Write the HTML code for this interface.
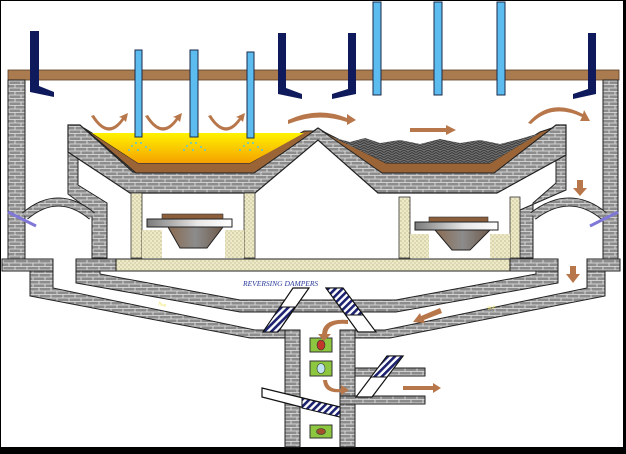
<!DOCTYPE html>
<html><head><meta charset="utf-8"><style>
html,body{margin:0;padding:0;background:#000;}
svg{display:block;}
</style></head><body>
<svg width="626" height="454" viewBox="0 0 626 454" xmlns="http://www.w3.org/2000/svg">
<defs>
<pattern id="br" width="12" height="7" patternUnits="userSpaceOnUse">
<rect width="12" height="7" fill="#8c8c8c"/>
<path d="M0 0.5H12M0 4H12M3 0.5V4M9 4V7.5" stroke="#e6e6e6" stroke-width="0.8" fill="none"/>
</pattern>
<pattern id="dt" width="4" height="4" patternUnits="userSpaceOnUse">
<rect width="4" height="4" fill="#eeeac8"/>
<circle cx="1" cy="1" r="0.6" fill="#a39c6c"/><circle cx="3" cy="3" r="0.6" fill="#b7b086"/>
</pattern>
<pattern id="rb" width="8" height="5" patternUnits="userSpaceOnUse">
<rect width="8" height="5" fill="#6e6e6e"/>
<path d="M0 2.5L4 0L8 2.5M0 5L4 2.5L8 5" stroke="#333" stroke-width="0.8" fill="none"/>
</pattern>
<pattern id="ht" width="5" height="5" patternUnits="userSpaceOnUse" patternTransform="rotate(45)">
<rect width="5" height="5" fill="#fff"/><rect width="2.6" height="5" fill="#1c2270"/>
</pattern>
<linearGradient id="yel" x1="0" y1="0" x2="0" y2="1">
<stop offset="0" stop-color="#fff200"/><stop offset="1" stop-color="#f5a100"/>
</linearGradient>
<linearGradient id="tray" x1="0" y1="0" x2="1" y2="0">
<stop offset="0" stop-color="#7a7a7a"/><stop offset="0.6" stop-color="#e8e8e8"/><stop offset="1" stop-color="#ffffff"/>
</linearGradient>
<linearGradient id="bowl" x1="0" y1="0" x2="1" y2="0">
<stop offset="0" stop-color="#8a6a50"/><stop offset="0.5" stop-color="#8c8c8c"/><stop offset="1" stop-color="#6f5a4a"/>
</linearGradient>
</defs>
<rect x="0" y="0" width="626" height="454" fill="#000"/>
<rect x="1" y="1" width="622" height="446" fill="#fff"/>

<rect x="8" y="70" width="611" height="10" fill="#a97b4f" stroke="#5a3d22" stroke-width="0.8"/>

<rect x="8" y="80" width="17" height="179" fill="url(#br)" stroke="#222" stroke-width="1"/>
<rect x="603" y="80" width="15" height="179" fill="url(#br)" stroke="#222" stroke-width="1"/>

<polygon points="68,150 78,156 78,185 107,203 107,258 92,258 92,212 68,194" fill="url(#br)" stroke="#222" stroke-width="1"/>
<polygon points="566,150 556,156 556,183 533,203 533,258 520,258 520,210 566,190" fill="url(#br)" stroke="#222" stroke-width="1"/>

<path d="M25,216 Q58,188 92,216" stroke="#222" stroke-width="9" fill="none"/>
<path d="M25,216 Q58,188 92,216" stroke="url(#br)" stroke-width="7" fill="none"/>
<path d="M533,216 Q570,188 604,216" stroke="#222" stroke-width="9" fill="none"/>
<path d="M533,216 Q570,188 604,216" stroke="url(#br)" stroke-width="7" fill="none"/>
<line x1="8" y1="212" x2="36" y2="226" stroke="#8078d8" stroke-width="3"/>
<line x1="590" y1="226" x2="618" y2="212" stroke="#8078d8" stroke-width="3"/>

<polygon points="68,125 80,125 133,172 255,172 318,128 385,172 495,172 556,125 566,125 566,155 497,193 378,193 318,140 255,193 130,193 68,152" fill="url(#br)" stroke="#222" stroke-width="1.2"/>
<polygon points="84,128 136,173 254,173 314,131 304,131 250,163 138,163 92,133" fill="#9a6436" stroke="#222" stroke-width="1"/>
<polygon points="92,133 304,133 250,163 138,163" fill="url(#yel)"/>
<polygon points="322,131 382,173 494,173 552,128 540,132 490,163 386,163 332,136" fill="#9a6436" stroke="#222" stroke-width="1"/>
<path d="M332,137 L350,142 L365,138 L380,143 L400,140 L420,144 L440,139 L460,143 L480,140 L500,144 L520,139 L540,133 L490,163 L386,163 Z" fill="url(#rb)"/>

<rect x="131" y="193" width="11" height="65" fill="url(#dt)" stroke="#333" stroke-width="0.8"/>
<rect x="244" y="193" width="11" height="65" fill="url(#dt)" stroke="#333" stroke-width="0.8"/>
<rect x="142" y="230" width="20" height="28" fill="url(#dt)"/>
<rect x="225" y="230" width="19" height="28" fill="url(#dt)"/>
<rect x="162" y="214" width="61" height="5" fill="#8b5e3c" stroke="#333" stroke-width="0.6"/>
<polygon points="168,227 223,227 207,248 180,248" fill="url(#bowl)" stroke="#222" stroke-width="1"/>
<rect x="147" y="219" width="85" height="8" fill="url(#tray)" stroke="#222" stroke-width="1"/>
<rect x="399" y="197" width="11" height="61" fill="url(#dt)" stroke="#333" stroke-width="0.8"/>
<rect x="510" y="197" width="10" height="61" fill="url(#dt)" stroke="#333" stroke-width="0.8"/>
<rect x="410" y="234" width="19" height="24" fill="url(#dt)"/>
<rect x="490" y="234" width="20" height="24" fill="url(#dt)"/>
<rect x="429" y="217" width="59" height="5" fill="#8b5e3c" stroke="#333" stroke-width="0.6"/>
<polygon points="435,230 490,230 470,250 452,250" fill="url(#bowl)" stroke="#222" stroke-width="1"/>
<rect x="415" y="222" width="83" height="8" fill="url(#tray)" stroke="#222" stroke-width="1"/>

<rect x="115" y="259" width="395" height="12" fill="url(#dt)" stroke="#222" stroke-width="1"/>
<rect x="2" y="259" width="51" height="12" fill="url(#br)" stroke="#222" stroke-width="1"/>
<rect x="76" y="259" width="40" height="12" fill="url(#br)" stroke="#222" stroke-width="1"/>
<rect x="510" y="259" width="48" height="12" fill="url(#br)" stroke="#222" stroke-width="1"/>
<rect x="587" y="259" width="33" height="12" fill="url(#br)" stroke="#222" stroke-width="1"/>

<polygon points="76,271 100,271 100,274 240,300 396,300 536,274 536,271 558,271 558,283 396,312 240,312 76,283" fill="url(#br)" stroke="#222" stroke-width="1"/>
<polygon points="30,271 53,271 53,288 255,330 300,330 300,338 250,338 30,296" fill="url(#br)" stroke="#222" stroke-width="1"/>
<polygon points="587,271 605,271 605,296 390,338 340,338 340,330 385,330 587,288" fill="url(#br)" stroke="#222" stroke-width="1"/>
<rect x="285" y="330" width="15" height="117" fill="url(#br)" stroke="#222" stroke-width="1"/>
<rect x="340" y="330" width="15" height="117" fill="url(#br)" stroke="#222" stroke-width="1"/>
<rect x="355" y="368" width="70" height="8" fill="url(#br)" stroke="#222" stroke-width="1"/>
<rect x="340" y="396" width="85" height="8" fill="url(#br)" stroke="#222" stroke-width="1"/>

<polygon points="293,288 309,288 278,332 263,332" fill="#fff" stroke="#111" stroke-width="1.2"/>
<polygon points="280,307 295,307 278,332 263,332" fill="url(#ht)" stroke="#111" stroke-width="1"/>
<polygon points="326,288 343,288 376,332 358,332" fill="#fff" stroke="#111" stroke-width="1.2"/>
<polygon points="326,288 343,288 363,315 346,315" fill="url(#ht)" stroke="#111" stroke-width="1"/>
<polygon points="387,356 403,356 372,397 356,397" fill="#fff" stroke="#111" stroke-width="1.2"/>
<polygon points="387,356 403,356 387,377 371,377" fill="url(#ht)" stroke="#111" stroke-width="1"/>
<polygon points="262,388 340,407 340,417 262,397" fill="#fff" stroke="#111" stroke-width="1.2"/>
<polygon points="302,398 340,407 340,417 302,408" fill="url(#ht)" stroke="#111" stroke-width="1"/>
<text x="243" y="286" font-family="Liberation Serif, serif" font-style="italic" font-size="7.5" fill="#2a3a9a">REVERSING DAMPERS</text>

<rect x="310" y="338" width="22" height="14" fill="#8dc63f" stroke="#333" stroke-width="1"/>
<ellipse cx="321" cy="345" rx="4" ry="5" fill="#c0392b" stroke="#333" stroke-width="0.6"/>
<rect x="310" y="361" width="22" height="15" fill="#8dc63f" stroke="#333" stroke-width="1"/>
<ellipse cx="321" cy="368.5" rx="4" ry="5" fill="#bfe3f0" stroke="#333" stroke-width="0.6"/>
<rect x="310" y="425" width="22" height="13" fill="#8dc63f" stroke="#333" stroke-width="1"/>
<ellipse cx="321" cy="431.5" rx="4.5" ry="3" fill="#a0522d" stroke="#333" stroke-width="0.6"/>

<g fill="#5cbcf0" stroke="#1a2a4a" stroke-width="1">
<rect x="135" y="50" width="7" height="87"/><rect x="190" y="50" width="8" height="87"/><rect x="247" y="52" width="7" height="86"/>
<rect x="373" y="2" width="8" height="93"/><rect x="434" y="2" width="8" height="93"/><rect x="497" y="2" width="8" height="93"/>
</g>
<g fill="#5cc8d8">
<circle cx="132" cy="146" r="1"/><circle cx="136" cy="143" r="1"/><circle cx="141" cy="143" r="1"/><circle cx="146" cy="147" r="1"/><circle cx="150" cy="150" r="1"/><circle cx="129" cy="150" r="1"/><circle cx="138" cy="150" r="1"/>
<circle cx="187" cy="146" r="1"/><circle cx="191" cy="143" r="1"/><circle cx="196" cy="143" r="1"/><circle cx="201" cy="147" r="1"/><circle cx="205" cy="150" r="1"/><circle cx="184" cy="150" r="1"/><circle cx="193" cy="150" r="1"/>
<circle cx="244" cy="146" r="1"/><circle cx="248" cy="143" r="1"/><circle cx="253" cy="143" r="1"/><circle cx="258" cy="147" r="1"/><circle cx="262" cy="150" r="1"/><circle cx="240" cy="150" r="1"/><circle cx="250" cy="150" r="1"/>
</g>

<g fill="#0f1a5c">
<polygon points="30,31 39,31 39,86 54,92 54,97 30,92"/>
<polygon points="278,33 286,33 286,88 302,94 302,99 278,94"/>
<polygon points="348,33 356,33 356,94 332,99 332,94 348,89"/>
<polygon points="588,33 596,33 596,94 573,99 573,94 588,89"/>
</g>

<g fill="#b8774a" stroke="none">
<path d="M94,115 Q108,138 122,118 L119,117 L128,113 L126,122 L124,120 Q108,143 91,116 Z"/>
<path d="M148,115 Q162,138 176,118 L173,117 L182,113 L180,122 L178,120 Q162,143 145,116 Z"/>
<path d="M211,115 Q225,138 239,118 L236,117 L245,113 L243,122 L241,120 Q225,143 208,116 Z"/>
<path d="M288,120 Q318,106 347,118 L347,114 L356,120 L347,125 L347,122 Q318,112 288,124 Z"/>
<rect x="410" y="128" width="36" height="4"/><polygon points="446,125 456,130 446,135"/>
<path d="M528,123 Q550,97 583,114 L584,110 L590,121 L580,121 L582,117 Q552,103 531,124 Z"/>
<rect x="577" y="180" width="6" height="9"/><polygon points="573,188 587,188 580,196"/>
<rect x="570" y="266" width="6" height="9"/><polygon points="566,274 580,274 573,283"/>
<polygon points="440,308 442,313 424,320 425,323 413,322 420,313 421,316"/>
<path d="M348,324 Q328,322 327,334 L331,334 L324,341 L318,334 L322,334 Q323,318 348,320 Z"/>
<path d="M327,380 Q328,390 341,389 L341,385 L349,390 L341,395 L341,392 Q324,394 323,380 Z"/>
<rect x="403" y="386" width="30" height="4"/><polygon points="433,383 441,388 433,393"/>
</g>

<text x="158" y="305" font-family="Liberation Sans, sans-serif" font-size="5" fill="#f0e870" transform="rotate(15 158 305)">flue</text>
<text x="488" y="310" font-family="Liberation Sans, sans-serif" font-size="5" fill="#f0e870" transform="rotate(-15 488 310)">flue</text>
</svg>
</body></html>
